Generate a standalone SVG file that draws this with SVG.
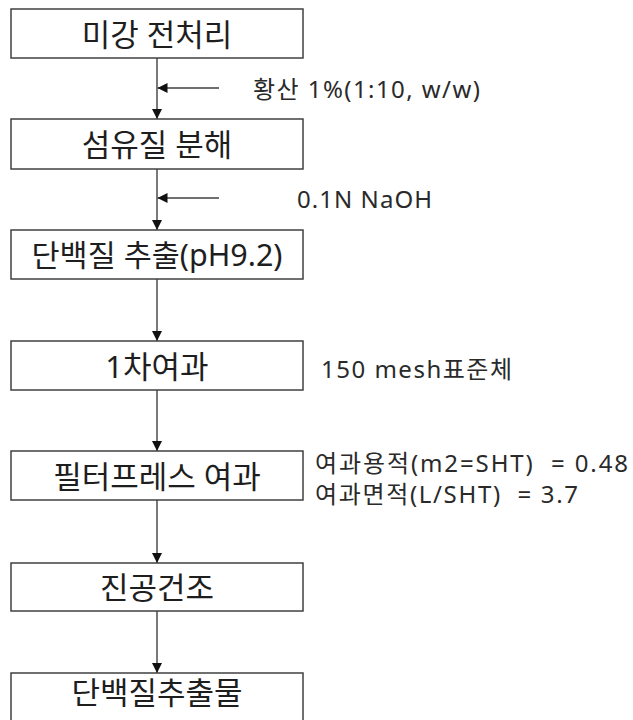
<svg xmlns="http://www.w3.org/2000/svg" width="633" height="720" viewBox="0 0 633 720">
<style>
  .box { fill: #ffffff; stroke: #404040; stroke-width: 1.5; }
  .t { font-family: "Noto Sans", "Noto Sans CJK KR", sans-serif; fill: #1e1e1e; dominant-baseline: central; }
  .bt { font-size: 31px; text-anchor: middle; }
  .st { font-size: 24px; fill: #2a2a2a; }
  .ft { font-size: 24px; fill: #2a2a2a; }
  .ln { stroke: #404040; stroke-width: 1.4; fill: none; }
</style>
<defs>
  <marker id="ah" markerUnits="userSpaceOnUse" markerWidth="10" markerHeight="10" refX="10" refY="5" orient="auto">
    <path d="M0,0 L10,5 L0,10 z" fill="#111"/>
  </marker>
</defs>
<rect width="633" height="720" fill="#ffffff"/>
<g id="connectors">
  <line class="ln" x1="157" y1="58" x2="157" y2="119" marker-end="url(#ah)"/>
  <line class="ln" x1="219" y1="88" x2="157.5" y2="88" marker-end="url(#ah)"/>
  <line class="ln" x1="157" y1="169" x2="157" y2="230" marker-end="url(#ah)"/>
  <line class="ln" x1="219" y1="198" x2="157.5" y2="198" marker-end="url(#ah)"/>
  <line class="ln" x1="157" y1="279" x2="157" y2="341" marker-end="url(#ah)"/>
  <line class="ln" x1="157" y1="390" x2="157" y2="451" marker-end="url(#ah)"/>
  <line class="ln" x1="157" y1="500" x2="157" y2="563" marker-end="url(#ah)"/>
  <line class="ln" x1="157" y1="611" x2="157" y2="673" marker-end="url(#ah)"/>
</g>
<g id="n1">
  <rect class="box" x="11" y="9" width="292" height="49"/>
  <text class="t bt" x="157" y="33.5">미강 전처리</text>
</g>
<g id="n2">
  <rect class="box" x="11" y="119" width="292" height="50"/>
  <text class="t bt" x="157" y="144">섬유질 분해</text>
</g>
<g id="n3">
  <rect class="box" x="11" y="230" width="292" height="49"/>
  <text class="t bt" x="157" y="254.5" style="font-size:30px" textLength="251" lengthAdjust="spacingAndGlyphs">단백질 추출(pH9.2)</text>
</g>
<g id="n4">
  <rect class="box" x="11" y="341" width="292" height="49"/>
  <text class="t bt" x="157" y="365.5">1차여과</text>
</g>
<g id="n5">
  <rect class="box" x="11" y="451" width="292" height="49"/>
  <text class="t bt" x="157" y="475.5">필터프레스 여과</text>
</g>
<g id="n6">
  <rect class="box" x="11" y="563" width="292" height="48"/>
  <text class="t bt" x="157" y="587">진공건조</text>
</g>
<g id="n7">
  <rect class="box" x="11" y="673" width="292" height="60"/>
  <text class="t bt" x="157" y="692">단백질추출물</text>
</g>
<g id="labels">
  <text class="t st" x="253" y="88" textLength="227" lengthAdjust="spacing">황산 1%(1:10, w/w)</text>
  <text class="t st" x="297" y="198" textLength="135" lengthAdjust="spacing">0.1N NaOH</text>
  <text class="t st" x="321" y="368" textLength="191" lengthAdjust="spacing">150 mesh표준체</text>
  <text class="t ft" x="315" y="462" textLength="313" lengthAdjust="spacing" xml:space="preserve">여과용적(m2=SHT)  = 0.48</text>
  <text class="t ft" x="315" y="493" textLength="263" lengthAdjust="spacing" xml:space="preserve">여과면적(L/SHT)  = 3.7</text>
</g>
</svg>
